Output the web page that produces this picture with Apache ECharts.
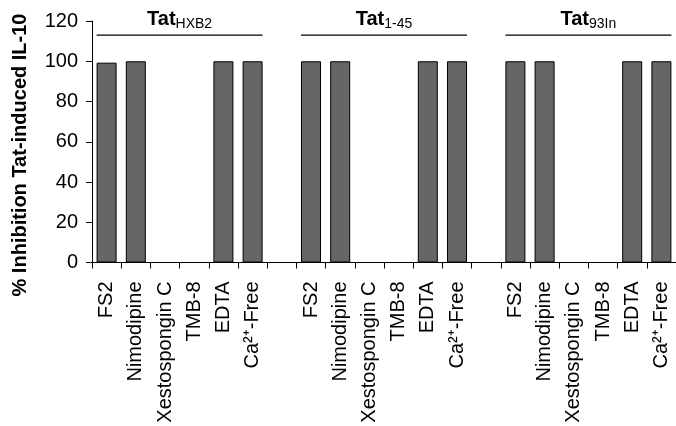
<!DOCTYPE html>
<html>
<head>
<meta charset="utf-8">
<script src="https://cdn.jsdelivr.net/npm/echarts@6/dist/echarts.min.js"></script>
<style>html,body{margin:0;padding:0;background:#fff;}#c{width:676px;height:426px;}</style>
</head>
<body>
<div id="c"></div>
<script>
const categories = ['FS2','Nimodipine','Xestospongin C','TMB-8','EDTA','Ca²⁺-Free','',
                    'FS2','Nimodipine','Xestospongin C','TMB-8','EDTA','Ca²⁺-Free','',
                    'FS2','Nimodipine','Xestospongin C','TMB-8','EDTA','Ca²⁺-Free'];
const values = [99.3, 100, 0, 0, 100, 100, null,
                100, 100, 0, 0, 100, 100, null,
                100, 100, 0, 0, 100, 100];
const groupMain = ['Tat','Tat','Tat'];
const groupSub = ['HXB2','1-45','93In'];
const groupStart = [0, 7, 14];
const groupEnd = [5, 12, 19];
const yTicks = [0, 20, 40, 60, 80, 100, 120];

const chart = echarts.init(document.getElementById('c'), null, {renderer:'canvas'});
const FONT = 'Liberation Sans, Arial, sans-serif';
const BAR_W = 20;
chart.setOption({
  animation: false,
  backgroundColor: '#fff',
  grid: {left: 92, top: 21, width: 585, height: 241.5, containLabel: false},
  xAxis: {
    type: 'category',
    data: categories,
    boundaryGap: true,
    axisLine: {lineStyle: {color: '#000', width: 1}},
    axisTick: {show: true, interval: 0, length: 6, lineStyle: {color: '#000'}},
    axisLabel: {interval: 0, rotate: 90, margin: 19, fontSize: 20, color: '#000', fontFamily: FONT}
  },
  yAxis: {
    type: 'value',
    min: yTicks[0], max: yTicks[yTicks.length - 1], interval: 20,
    axisLine: {show: true, lineStyle: {color: '#000', width: 1}},
    axisTick: {show: true, length: 6, lineStyle: {color: '#000'}},
    axisLabel: {margin: 14, fontSize: 20, color: '#000', fontFamily: FONT},
    splitLine: {show: false}
  },
  series: [{
    type: 'bar',
    data: values,
    barWidth: BAR_W,
    itemStyle: {color: '#666666', borderColor: '#000', borderWidth: 1}
  }]
});

const g = [];
for (let i = 0; i < groupMain.length; i++) {
  const x0 = chart.convertToPixel({xAxisIndex: 0}, groupStart[i]) - BAR_W / 2;
  const x1 = chart.convertToPixel({xAxisIndex: 0}, groupEnd[i]) + BAR_W / 2;
  const yLine = chart.convertToPixel({yAxisIndex: 0}, 113);
  g.push({type: 'line', shape: {x1: x0, y1: yLine, x2: x1, y2: yLine}, style: {stroke: '#000', lineWidth: 1.2}});
  g.push({type: 'text', x: (x0 + x1) / 2, y: 7, style: {
    text: '{a|' + groupMain[i] + '}{b|' + groupSub[i] + '}',
    align: 'center', verticalAlign: 'top',
    rich: {
      a: {fontSize: 20, fontWeight: 'bold', fontFamily: FONT, lineHeight: 24, fill: '#000'},
      b: {fontSize: 14, fontWeight: 'normal', fontFamily: FONT, lineHeight: 14, verticalAlign: 'bottom', fill: '#000'}
    }
  }});
}
g.push({type: 'text', x: 20, y: 155, rotation: Math.PI / 2, style: {
  text: '% Inhibition Tat-induced IL-10', align: 'center', verticalAlign: 'middle',
  font: 'bold 20px ' + FONT, fill: '#000'
}});
chart.setOption({graphic: g});
</script>
</body>
</html>
